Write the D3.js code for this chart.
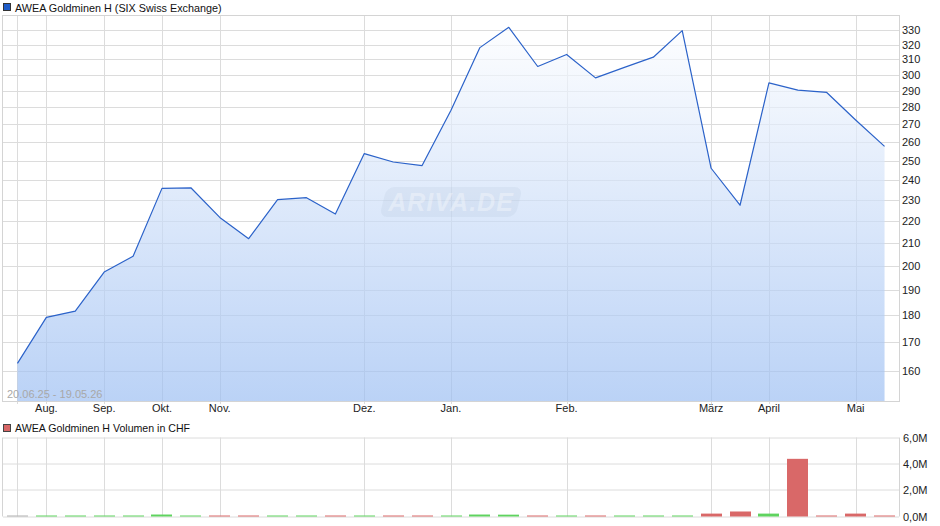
<!DOCTYPE html>
<html><head><meta charset="utf-8">
<script src="https://cdn.jsdelivr.net/npm/d3@7"></script>
<style>
html,body{margin:0;padding:0;background:#fff;}
svg text{font-family:"Liberation Sans",Arial,sans-serif;}
</style></head>
<body><svg id="c" width="940" height="526"></svg>
<script>
// ---- data ----
const prices = [162.5,179.2,181.6,197.3,204.0,235.7,236.0,221.6,211.8,230.1,231.1,223.2,253.8,249.3,247.4,278.3,317.9,331.9,305.4,313.3,298.1,304.8,311.5,329.6,246.0,227.4,294.9,290.4,289.0,272.6,257.7];
const volumes = [0.06,0.05,0.06,0.05,0.06,0.15,0.06,0.05,0.06,0.05,0.06,0.05,0.06,0.05,0.05,0.07,0.15,0.14,0.06,0.05,0.05,0.05,0.06,0.05,0.22,0.38,0.22,4.38,0.06,0.22,0.06].map(v=>v*1e6);
const monthIdx = [1,3,5,7,12,15,19,24,26,29];
const monthLabels = ["Aug.","Sep.","Okt.","Nov.","Dez.","Jan.","Feb.","März","April","Mai"];
const gridIdx = [0].concat(monthIdx);
const priceTicks = [160,170,180,190,200,210,220,230,240,250,260,270,280,290,300,310,320,330];
const volTicks = [0,2e6,4e6,6e6];
const titleMain = "AWEA Goldminen H (SIX Swiss Exchange)";
const titleVol = "AWEA Goldminen H Volumen in CHF";
const rangeLabel = "20.06.25 - 19.05.26";

// ---- layout ----
const L=3, R=899, T=16, B=401, VT=437.5, VB=516.5;
const svg = d3.select("#c");
const x = d3.scaleBand().domain(d3.range(prices.length)).range([L,R]);
const cx = i => x(i)+x.bandwidth()/2;
const y = d3.scaleLog().domain([150,340]).range([B,T]);
const yv = d3.scaleLinear().domain([0,6e6]).range([VB,VT]);
const gridCol = "#dcdcdc";
const px = v => Math.round(v)+0.5;

// gradient
const defs = svg.append("defs");
const g = defs.append("linearGradient").attr("id","fillg").attr("gradientUnits","userSpaceOnUse")
  .attr("x1",0).attr("y1",T).attr("x2",0).attr("y2",B);
g.append("stop").attr("offset","0").attr("stop-color","#ffffff");
g.append("stop").attr("offset","1").attr("stop-color","#9abdf2");

// ---- main panel grid ----
const main = svg.append("g");
main.selectAll("line.h").data(priceTicks).enter().append("line")
  .attr("x1",L).attr("x2",R).attr("y1",d=>px(y(d))).attr("y2",d=>px(y(d)))
  .attr("stroke",gridCol);
main.selectAll("line.v").data(gridIdx).enter().append("line")
  .attr("x1",d=>px(cx(d))).attr("x2",d=>px(cx(d))).attr("y1",T).attr("y2",B+3)
  .attr("stroke",gridCol);

// area + line
const area = d3.area().x((d,i)=>cx(i)).y0(B).y1(d=>y(d));
main.append("path").datum(prices).attr("d",area).attr("fill","url(#fillg)").attr("fill-opacity",0.68);
const line = d3.line().x((d,i)=>cx(i)).y(d=>y(d));
main.append("path").datum(prices).attr("d",line).attr("fill","none")
  .attr("stroke","#2b62c9").attr("stroke-width",1.2).attr("stroke-linejoin","round");

// watermark
const wm = main.append("g").attr("transform","translate(451,202)");
wm.append("rect").attr("x",-68).attr("y",-15).attr("width",136).attr("height",30).attr("rx",8)
  .attr("transform","skewX(-14)").attr("fill","#a9b9d6").attr("fill-opacity",0.16);
wm.append("text").attr("text-anchor","middle").attr("y",9).attr("font-size",25)
  .attr("font-weight","bold").attr("font-style","italic").attr("letter-spacing",1)
  .attr("fill","#ffffff").attr("fill-opacity",0.35).text("ARIVA.DE");

// frame
main.append("rect").attr("x",L-0.5).attr("y",T-0.5).attr("width",R-L+1).attr("height",B-T+1)
  .attr("fill","none").attr("stroke","#d4d4d4");

// y axis
const yAx = d3.axisRight(y).tickValues(priceTicks).tickFormat(d3.format("d")).tickSize(0).tickPadding(0);
const ya = svg.append("g").attr("transform",`translate(${R+3},0)`).call(yAx);
ya.select(".domain").remove();
ya.selectAll("text").attr("font-size",11).attr("fill","#222").attr("font-family","Liberation Sans, Arial, sans-serif");

// x axis
const xAx = d3.axisBottom(x).tickValues(monthIdx).tickFormat(d=>monthLabels[monthIdx.indexOf(d)]).tickSize(0).tickPadding(0);
const xa = svg.append("g").attr("transform",`translate(0,${B+3})`).call(xAx);
xa.select(".domain").remove();
xa.selectAll("text").attr("font-size",11).attr("fill","#222").attr("font-family","Liberation Sans, Arial, sans-serif");

// range label
svg.append("text").attr("x",7).attr("y",398).attr("font-size",11).attr("fill","#a8a8a8").text(rangeLabel);

// legend main
svg.append("rect").attr("x",3.5).attr("y",3.5).attr("width",7).attr("height",7).attr("fill","#1f5cc8").attr("stroke","#333");
svg.append("text").attr("x",15).attr("y",11.5).attr("font-size",10.8).attr("fill","#111").text(titleMain);

// ---- volume panel ----
const vol = svg.append("g");
vol.selectAll("line.h").data(volTicks).enter().append("line")
  .attr("x1",L).attr("x2",R).attr("y1",d=>px(yv(d))-0.5).attr("y2",d=>px(yv(d))-0.5)
  .attr("stroke",gridCol);
vol.selectAll("line.v").data(gridIdx).enter().append("line")
  .attr("x1",d=>px(cx(d))).attr("x2",d=>px(cx(d))).attr("y1",VT).attr("y2",VB)
  .attr("stroke",gridCol);
vol.append("line").attr("x1",L-0.5).attr("x2",L-0.5).attr("y1",VT).attr("y2",VB).attr("stroke","#d4d4d4");
vol.append("line").attr("x1",R+0.5).attr("x2",R+0.5).attr("y1",VT).attr("y2",VB).attr("stroke","#d4d4d4");
const bw = 21;
vol.selectAll("rect.b").data(volumes).enter().append("rect")
  .attr("x",(d,i)=>Math.round(cx(i)-bw/2))
  .attr("width",bw)
  .attr("y",d=>Math.min(yv(d),VB-1))
  .attr("height",d=>Math.max(VB-yv(d),1))
  .attr("fill",(d,i)=> i===0 ? "#b0b0b0" : (prices[i]>=prices[i-1] ? "#5fd35f" : "#d96868"));

const vAx = d3.axisRight(yv).tickValues(volTicks).tickFormat(d=>(d/1e6).toFixed(1).replace(".",",")+"M").tickSize(0).tickPadding(0);
const va = svg.append("g").attr("transform",`translate(${R+4},0)`).call(vAx);
va.select(".domain").remove();
va.selectAll("text").attr("font-size",11).attr("fill","#222").attr("font-family","Liberation Sans, Arial, sans-serif");

svg.append("rect").attr("x",3.5).attr("y",424.5).attr("width",7).attr("height",7).attr("fill","#d86666").attr("stroke","#444");
svg.append("text").attr("x",15).attr("y",432).attr("font-size",10.6).attr("fill","#111").text(titleVol);
</script></body></html>
